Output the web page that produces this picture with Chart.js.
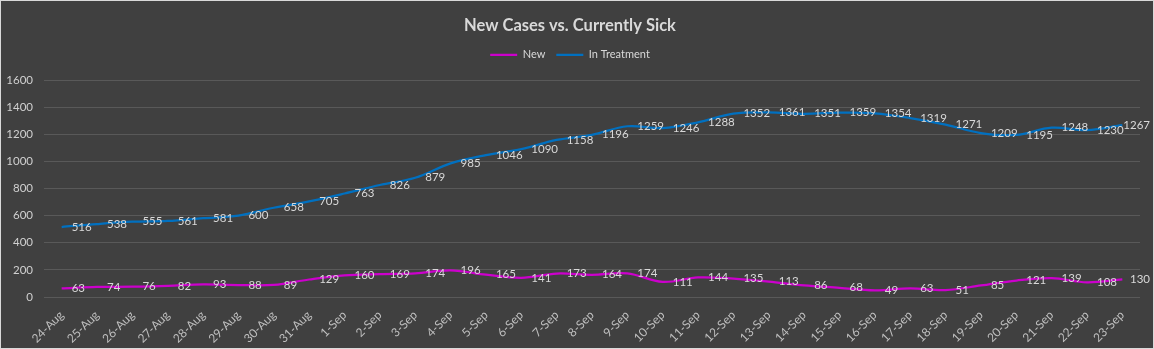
<!DOCTYPE html>
<html><head><meta charset="utf-8">
<script src="https://cdn.jsdelivr.net/npm/chart.js@4"></script>
<style>html,body{margin:0;padding:0;background:#404040;} canvas{display:block;}</style>
</head><body>
<canvas id="c" width="1154" height="349"></canvas>
<script>
const categories = ['24-Aug','25-Aug','26-Aug','27-Aug','28-Aug','29-Aug','30-Aug','31-Aug','1-Sep','2-Sep','3-Sep','4-Sep','5-Sep','6-Sep','7-Sep','8-Sep','9-Sep','10-Sep','11-Sep','12-Sep','13-Sep','14-Sep','15-Sep','16-Sep','17-Sep','18-Sep','19-Sep','20-Sep','21-Sep','22-Sep','23-Sep'];
const newCases = [63,74,76,82,93,88,89,129,160,169,174,196,165,141,173,164,174,111,144,135,113,86,68,49,63,51,85,121,139,108,130];
const inTreatment = [516,538,555,561,581,600,658,705,763,826,879,985,1046,1090,1158,1196,1259,1246,1288,1352,1361,1351,1359,1354,1319,1271,1209,1195,1248,1230,1267];
const yTickValues = [0,200,400,600,800,1000,1200,1400,1600];
const seriesNames = ['New','In Treatment'];
const titleText = 'New Cases vs. Currently Sick';

const FONT = 'Lato';

const bgPlugin = {
  id: 'bg',
  beforeDraw(chart) {
    const ctx = chart.ctx;
    ctx.save();
    ctx.fillStyle = '#404040';
    ctx.fillRect(0, 0, chart.width, chart.height);
    ctx.strokeStyle = '#d9d9d9';
    ctx.lineWidth = 1;
    ctx.strokeRect(0.5, 0.5, chart.width - 1, chart.height - 1);
    ctx.restore();
  }
};

const legendGap = {
  id: 'legendGap',
  beforeInit(chart) {
    const orig = chart.legend.fit;
    chart.legend.fit = function () {
      orig.bind(chart.legend)();
      this.height += 9.7;
    };
  }
};

const dataLabels = {
  id: 'dataLabels',
  afterDatasetsDraw(chart) {
    const ctx = chart.ctx;
    ctx.save();
    ctx.font = '11.5px ' + FONT;
    ctx.fillStyle = '#d9d9d9';
    ctx.textAlign = 'left';
    ctx.textBaseline = 'middle';
    const limit = chart.width - 4;
    chart.data.datasets.forEach((ds, i) => {
      const meta = chart.getDatasetMeta(i);
      meta.data.forEach((pt, j) => {
        const txt = String(ds.data[j]);
        const w = ctx.measureText(txt).width;
        let x = pt.x + 10;
        if (x + w > limit) x = limit - w;
        ctx.fillText(txt, x, pt.y);
      });
    });
    ctx.restore();
  }
};

new Chart(document.getElementById('c'), {
  type: 'line',
  data: {
    labels: categories,
    datasets: [
      { label: seriesNames[0], data: newCases, borderColor: '#cc00cc', backgroundColor: '#cc00cc', borderWidth: 2.25, pointRadius: 0, tension: 0.35, fill: false },
      { label: seriesNames[1], data: inTreatment, borderColor: '#0070c0', backgroundColor: '#0070c0', borderWidth: 2.25, pointRadius: 0, tension: 0.35, fill: false }
    ]
  },
  options: {
    responsive: false,
    animation: false,
    devicePixelRatio: 1,
    layout: { padding: { left: 0, right: 14, top: 0, bottom: 0 } },
    plugins: {
      tooltip: { enabled: false },
      title: {
        display: true,
        text: titleText,
        color: '#d9d9d9',
        font: { family: FONT, size: 16.5, weight: 'bold', lineHeight: 1.2 },
        padding: { top: 16, bottom: 2.5 }
      },
      legend: {
        display: true,
        position: 'top',
        labels: {
          color: '#d9d9d9',
          font: { family: FONT, size: 11 },
          usePointStyle: true,
          pointStyle: 'line',
          pointStyleWidth: 27,
          boxWidth: 27,
          padding: 11
        }
      }
    },
    scales: {
      x: {
        type: 'category',
        offset: true,
        grid: { display: false, drawTicks: false },
        border: { display: false },
        ticks: { color: '#bfbfbf', font: { family: FONT, size: 12 }, minRotation: 45, maxRotation: 45, autoSkip: false, padding: 11 },
        afterFit(scale) { scale.height = 52; }
      },
      y: {
        min: 0,
        max: 1600,
        afterBuildTicks(scale) { scale.ticks = yTickValues.map(v => ({ value: v })); },
        grid: { color: '#595959', drawTicks: false, lineWidth: 1 },
        border: { display: false },
        ticks: { color: '#d0d0d0', font: { family: FONT, size: 11.5 }, padding: 11, callback: (v) => String(v) },
        afterFit(scale) { scale.width = 44; }
      }
    }
  },
  plugins: [bgPlugin, legendGap, dataLabels]
});
</script>
</body></html>
